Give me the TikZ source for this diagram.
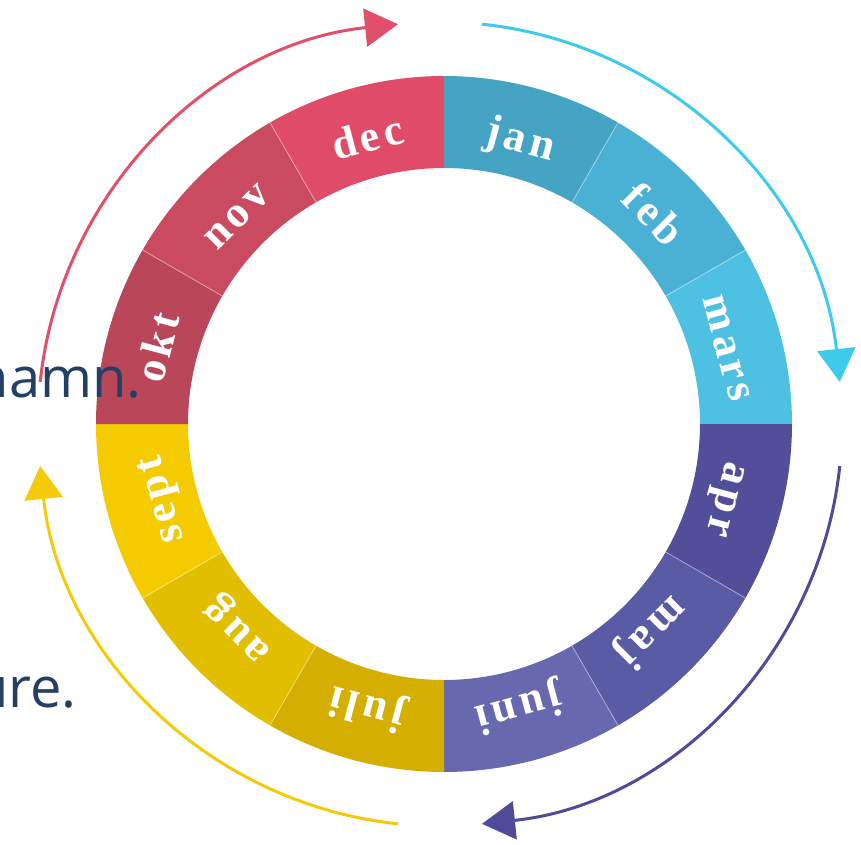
\documentclass[tikz,border=0pt]{standalone}
\usepackage{fontspec}
\newfontfamily\bodyfont{Open Sans}
\newfontfamily\monthfont[LetterSpace=10]{Liberation Serif}
\usetikzlibrary{arrows.meta}
\definecolor{cjan}{HTML}{45A4C4}
\definecolor{cfeb}{HTML}{4AB1D5}
\definecolor{cmars}{HTML}{4EC0E2}
\definecolor{capr}{HTML}{524E9A}
\definecolor{cmaj}{HTML}{5A5BA5}
\definecolor{cjuni}{HTML}{6868AE}
\definecolor{cjuli}{HTML}{D4AF02}
\definecolor{caug}{HTML}{E2BE00}
\definecolor{csept}{HTML}{F4CB00}
\definecolor{cokt}{HTML}{BA4659}
\definecolor{cnov}{HTML}{CA4A5F}
\definecolor{cdec}{HTML}{E04B67}
\definecolor{arcred}{HTML}{E1506A}
\definecolor{arcblue}{HTML}{3DCBEC}
\definecolor{arcpurple}{HTML}{4F4B99}
\definecolor{arcyellow}{HTML}{F5CA0A}
\definecolor{navytext}{HTML}{233F65}
\tikzset{
  monthtext/.style={text=white, inner sep=0pt, anchor=base, font=\monthfont\bfseries\fontsize{44}{46}\selectfont},
  sidetext/.style={text=navytext, inner sep=0pt, anchor=base east, font=\bodyfont\fontsize{56}{66}\selectfont},
  cyclearc/.style={line width=3pt, -{Triangle[length=33pt,width=38pt]}},
  sep/.style={white, opacity=0.4, line width=0.9pt}
}
\begin{document}
\begin{tikzpicture}[x=1pt,y=1pt]
\useasboundingbox (-444,-420) rectangle (417,424);
\fill[white] (-444,-420) rectangle (417,424);
\def\Ro{348}
\def\Ri{256}
\coordinate (c) at (-4,0);
% outer cycle arcs
\draw[cyclearc, arcblue] ([shift={(c)}]84:402) arc[start angle=84, end angle=6, radius=402];
\draw[cyclearc, arcpurple] ([shift={(c)}]-6:402) arc[start angle=-6, end angle=-84, radius=402];
\draw[cyclearc, arcyellow] ([shift={(c)}]-96:402) arc[start angle=-96, end angle=-174, radius=402];
\draw[cyclearc, arcred] ([shift={(c)}]174:402) arc[start angle=174, end angle=96, radius=402];
% ring segments
\foreach \a/\col/\nm in {90/cjan/jan, 60/cfeb/feb, 30/cmars/mars, 0/capr/apr, -30/cmaj/maj, -60/cjuni/juni, -90/cjuli/juli, -120/caug/aug, -150/csept/sept, 180/cokt/okt, 150/cnov/nov, 120/cdec/dec}{
  \pgfmathsetmacro\b{\a-30}
  \pgfmathsetmacro\m{\a-15}
  \pgfmathsetmacro\r{\m-90}
  \fill[\col] (\a:\Ro) arc[start angle=\a, end angle=\b, radius=\Ro] -- (\b:\Ri) arc[start angle=\b, end angle=\a, radius=\Ri] -- cycle;
  \node[monthtext, rotate=\r] (\nm) at (\m:282) {\nm};
}
\foreach \a in {60,30,-30,-60,-120,-150,150,120}{
  \draw[sep] (\a:\Ri) -- (\a:\Ro);
}
% partly visible background text
\node[sidetext] (hamn) at (-302,27) {hamn.};
\node[sidetext] (ure) at (-367,-283) {ure.};
\end{tikzpicture}
\end{document}
